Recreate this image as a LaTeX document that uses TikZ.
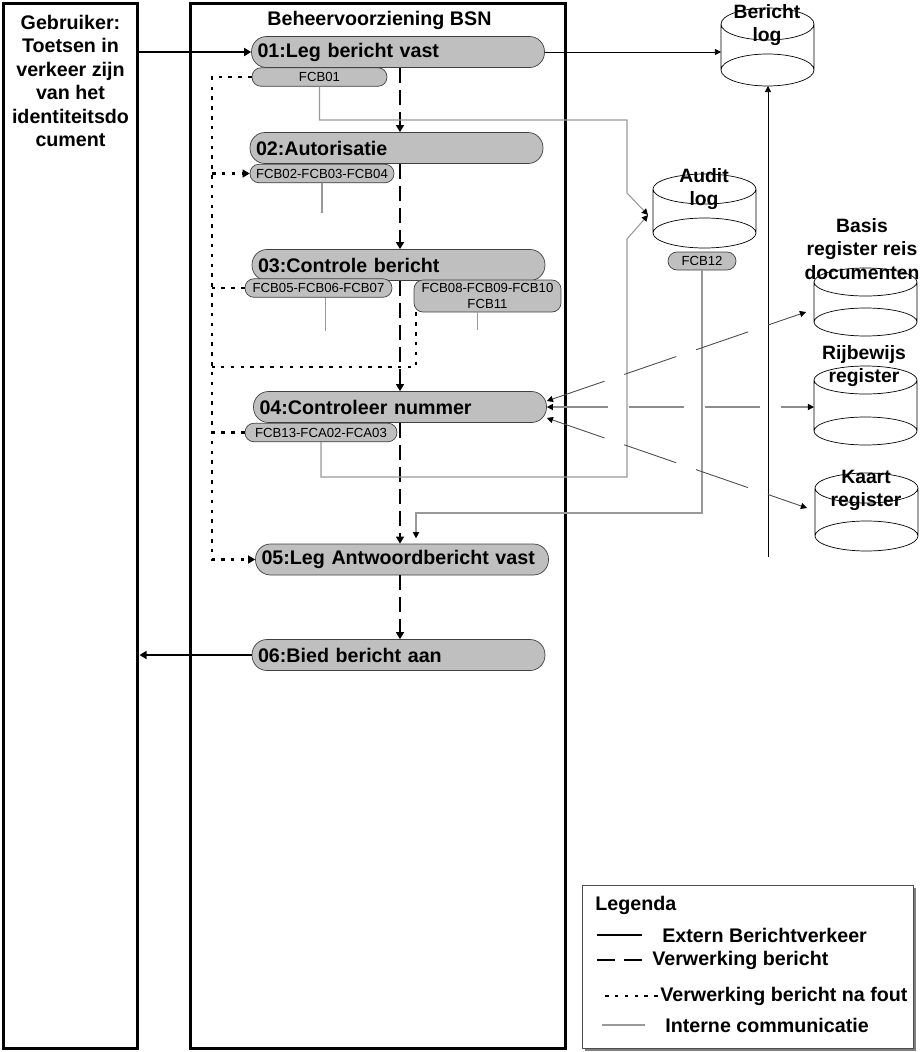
\documentclass[tikz,border=0pt]{standalone}
\usepackage{fontspec}
\setmainfont{Liberation Sans}
\usetikzlibrary{arrows.meta, positioning, calc}

% cylinder round an invisible node: #1 node, #2 x radius, #3 y radius (px)
\newcommand\dbcyl[3]{%
  \draw[dbline]
    ($(#1.north)+(0,#3)$) ellipse [x radius=#2*0.02cm, y radius=#3*0.02cm]
    ($(#1.south)+(0,-#3)$) ellipse [x radius=#2*0.02cm, y radius=#3*0.02cm]
    ($(#1.north west)+(0,#3)$) -- ($(#1.south west)+(0,-#3)$)
    ($(#1.north east)+(0,#3)$) -- ($(#1.south east)+(0,-#3)$);}

\begin{document}
\begin{tikzpicture}[x=0.02cm, y=-0.02cm,
  lanebox/.style={draw, line width=1.7pt, inner sep=0pt},
  boldtext/.style={font=\bfseries\fontsize{11.2}{13.4}\selectfont},
  proc/.style={draw=black!75, fill=black!25, rounded corners=0.3cm,
    text width=5.62cm, minimum height=0.62cm, inner xsep=0.12cm,
    inner ysep=0pt, align=left, boldtext},
  fcb/.style={draw=black!75, fill=black!25, rounded corners=0.18cm,
    minimum height=0.37cm, inner sep=0pt, align=center,
    font=\fontsize{7.5}{9}\selectfont},
  dbbox/.style={inner sep=0pt, outer sep=0pt},
  dbline/.style={black, line width=0.4pt},
  dblabel/.style={align=center, inner sep=0pt,
    font=\bfseries\fontsize{11}{13.2}\selectfont},
  headarrow/.style={-{Triangle[width=4.5pt,length=4pt]}},
  smallhead/.style={-{Triangle[width=3.5pt,length=3.5pt,color=black]}},
  bothheads/.style={{Triangle[width=3.5pt,length=3.5pt,color=black]}-{Triangle[width=3.5pt,length=3.5pt,color=black]}},
  extline/.style={black, line width=1.1pt},
  thinline/.style={black, line width=0.5pt},
  flowline/.style={black, line width=1.2pt, dash pattern=on 0.3cm off 0.14cm},
  legdash/.style={black, line width=1.2pt, dash pattern=on 0.36cm off 0.18cm},
  errline/.style={black, line width=1.2pt, dash pattern=on 2pt off 3.6pt},
  intline/.style={black!40, line width=0.6pt},
  regline/.style={black!70, line width=0.5pt, dash pattern=on 1.1cm off 0.42cm},
  legtext/.style={anchor=west, inner sep=0pt, boldtext}
]
  \useasboundingbox (0,0) rectangle (920,1052);

  % The two lanes
  \node[lanebox, minimum width=2.7cm, minimum height=20.92cm] (user) at (70.5,526) {};
  \node[boldtext, align=center, inner sep=0pt] (usertxt) at (70.5,81)
    {Gebruiker:\\Toetsen in\\verkeer zijn\\van het\\identiteitsdo\\cument};
  \node[lanebox, minimum width=7.52cm, minimum height=20.92cm] (bsn) at (378,526) {};
  \node[boldtext, anchor=west, inner sep=0pt] (bsntitle) at (267,20) {Beheervoorziening BSN};

  % Process steps with their checks
  \node[proc] (p01) at (398,52) {01:Leg bericht vast};
  \node[fcb, minimum width=2.7cm] (f01) at (319.5,77) {FCB01};
  \node[proc] (p02) at (396.5,148) {02:Autorisatie};
  \node[fcb, minimum width=2.88cm] (f02) at (322,173.5) {FCB02-FCB03-FCB04};
  \node[proc] (p03) at (398.5,265) {03:Controle bericht};
  \node[fcb, minimum width=2.94cm] (f05) at (318.5,288) {FCB05-FCB06-FCB07};
  \node[fcb, minimum width=2.94cm, minimum height=0.64cm] (f08) at (487.5,296)
    {FCB08-FCB09-FCB10\\FCB11};
  \node[proc] (p04) at (400,407) {04:Controleer nummer};
  \node[fcb, minimum width=3.04cm] (f13) at (321,432.5) {FCB13-FCA02-FCA03};
  \node[proc] (p05) at (402,559.5) {05:Leg Antwoordbericht vast};
  \node[proc] (p06) at (398.5,655) {06:Bied bericht aan};

  % Data stores
  \node[dbbox, minimum width=1.86cm, minimum height=1.56cm] (blog) at (767.5,47) {};
  \node[dbbox, minimum width=2.06cm, minimum height=1.48cm] (alog) at (704.5,211) {};
  \node[dbbox, minimum width=2.06cm, minimum height=1.36cm] (breg) at (865.5,302) {};
  \node[dbbox, minimum width=2.06cm, minimum height=1.58cm] (rreg) at (865.5,405.5) {};
  \node[dbbox, minimum width=2.06cm, minimum height=1.56cm] (kreg) at (866.5,512) {};
  \dbcyl{blog}{46.5}{16}
  \dbcyl{alog}{51.5}{15}
  \dbcyl{breg}{51.5}{14}
  \dbcyl{rreg}{51.5}{14}
  \dbcyl{kreg}{51.5}{15}
  \node[dblabel] (blogtxt) at (767,25) {Bericht\\log};
  \node[dblabel] (alogtxt) at (704,189) {Audit\\log};
  \node[dblabel] (bregtxt) at (862,249) {Basis\\register reis\\documenten};
  \node[dblabel] (rregtxt) at (864,366) {Rijbewijs\\register};
  \node[dblabel] (kregtxt) at (866,490) {Kaart\\register};
  \node[fcb, minimum width=1.36cm, minimum height=0.36cm] (f12) at (702,261) {FCB12};

  % External message traffic
  \draw[extline, headarrow] (user.east |- p01.west) -- (p01.west);
  \draw[extline, line width=1.3pt, headarrow] (p06.west) -- (user.east |- p06.west);
  \draw[thinline, smallhead] (p01.east) -- (p01.east -| blog.west);
  \coordinate (blogfeed) at (768,557);
  \draw[thinline, smallhead] (blogfeed) -- (blogfeed |- blog.south);

  % Processing flow
  \coordinate (flow) at (400,0);
  \foreach \a/\b in {p01/p02, p02/p03, p03/p04, p04/p05, p05/p06}
    \draw[flowline, headarrow] (\a.south -| flow) -- (\b.north -| flow);

  % Processing after an error
  \coordinate (err) at (212,0);
  \coordinate (errjoin) at (212,367);
  \draw[errline, headarrow] (f01.west) -- (f01.west -| err) -- (err |- p05.west) -- (p05.west);
  \draw[errline, headarrow] (f02.west -| err) -- (f02.west);
  \draw[errline] (f05.west) -- (f05.west -| err);
  \draw[errline] (f13.west) -- (f13.west -| err);
  \draw[errline] ($(f08.south west)+(2,0)$) |- (errjoin);

  % Internal communication
  \coordinate (audin) at ($(alog.west)+(-5,4)$);
  \coordinate (bendA) at (627,120);
  \coordinate (bendB) at (627,477);
  \coordinate (ret) at (416,513);
  \draw[intline, smallhead] (f01.south) |- (bendA) -- ++(0,73) -- (audin);
  \draw[intline, smallhead] (f13.south) |- (bendB) -- ++(0,-238) -- (audin);
  \draw[intline] (f02.south) -- ++(0,30);
  \draw[intline] ($(f05.south)+(7,0)$) -- ++(0,33);
  \draw[intline] ($(f08.south)+(-10,0)$) -- ++(0,18);
  \draw[intline, smallhead, shorten >=3pt] (f12.south) |- (ret) -- (ret |- p05.north);

  % Registers
  \draw[regline, bothheads] ($(p04.east)+(0,-6)$) -- ($(breg.west)+(-8,10)$);
  \draw[regline, black!45, line width=0.7pt, bothheads] (p04.east) -- (p04.east -| rreg.west);
  \draw[regline, bothheads] ($(p04.east)+(0,11)$) -- ($(kreg.west)+(-8,-4)$);

  % Legend
  \fill[black!50] (584.5,887.5) rectangle (915.5,1050.5);
  \node[draw=black!70, fill=white, line width=0.5pt, minimum width=6.62cm,
    minimum height=3.26cm, inner sep=0pt] (legend) at (747.5,966.5) {};
  \node[legtext] (legtitle) at (595,905) {Legenda};
  \foreach \sty/\yy/\xa/\xb/\xt/\txt in {
      extline/935/597/642/662/Extern Berichtverkeer,
      legdash/960/597/642/652/Verwerking bericht,
      errline/996/605/658/660/Verwerking bericht na fout,
      intline/1025/602/645/665/Interne communicatie} {
    \draw[\sty] (\xa,\yy) -- (\xb,\yy);
    \node[legtext] (leg\yy) at (\xt,\yy) {\txt};
  }
\end{tikzpicture}
\end{document}
